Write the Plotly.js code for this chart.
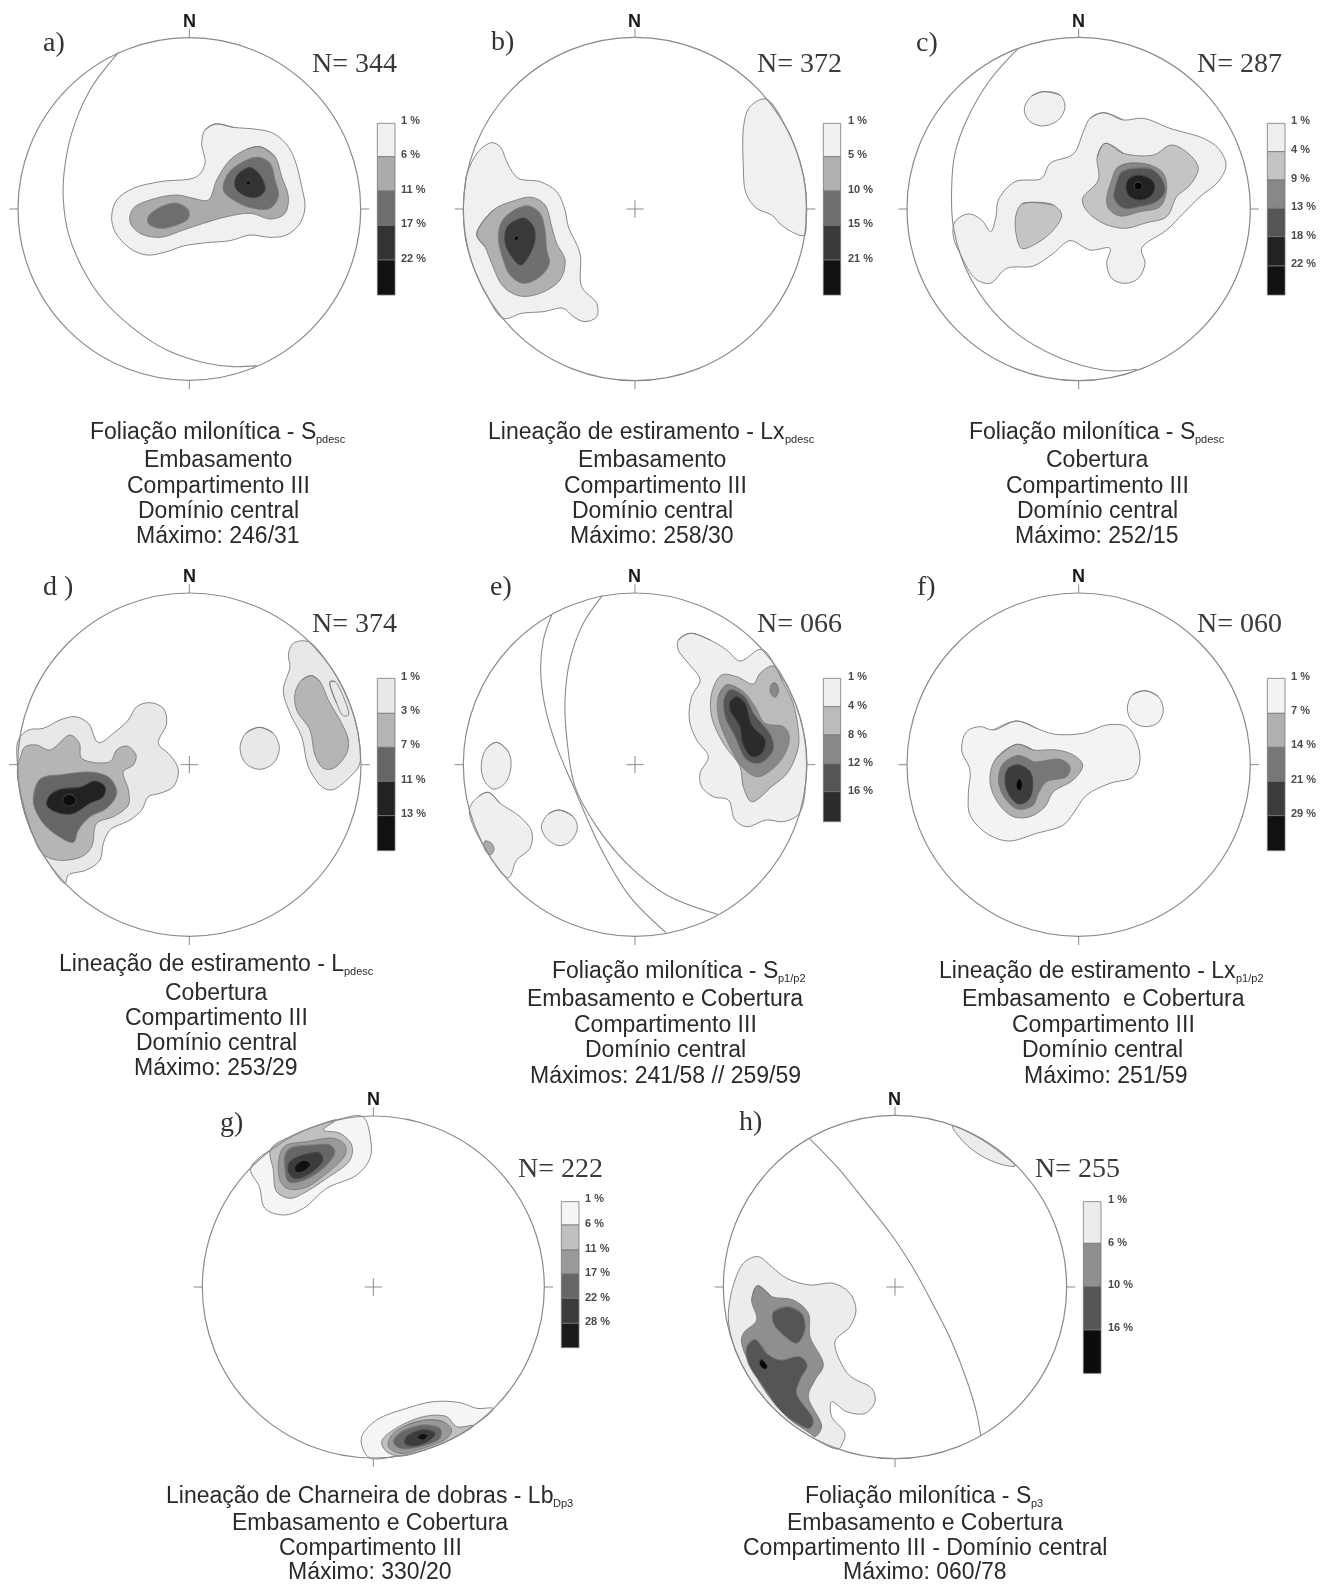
<!DOCTYPE html>
<html><head><meta charset="utf-8">
<script src="https://cdn.plot.ly/plotly-3.0.1.min.js"></script>
<style>html,body{margin:0;padding:0;background:#fff}#chart{width:1331px;height:1584px;filter:blur(0.45px)}</style>
</head><body><div id="chart"></div>
<script>
// Contours, in chart units of each net (1 unit = 1/3 page pixel)
const aL1=[[645,372],[700,382],[770,388],[820,400],[865,440],[888,490],[905,560],[915,620],[900,670],[860,705],[810,712],[750,705],[690,722],[620,728],[550,738],[500,755],[440,765],[390,745],[345,695],[335,650],[350,600],[400,565],[480,545],[590,530],[615,490],[605,430],[615,390]];
const aL2=[[780,440],[825,470],[845,530],[865,590],[855,640],[815,657],[750,640],[680,650],[610,670],[550,690],[480,712],[420,700],[390,665],[400,625],[450,600],[530,585],[580,595],[625,600],[650,540],[690,480],[740,448]];
const aL3a=[[775,472],[810,490],[825,540],[835,590],[810,625],[760,625],[700,600],[670,570],[685,520],[730,485]];
const aL3b=[[530,610],[565,630],[565,655],[530,675],[480,685],[445,670],[445,650],[480,622]];
const aL4=[[750,503],[780,525],[795,570],[770,592],[730,585],[705,560],[712,525]];
const aL5=[[745,542],[750,544],[752,548],[750,552],[745,555],[740,552],[738,548],[740,544]];
const aArc=[[355,158],[270,270],[215,400],[192,520],[190,600],[205,700],[245,800],[310,900],[400,985],[500,1050],[620,1090],[700,1100],[770,1097]];

const bL1a=[[51,520],[85,455],[125,428],[150,440],[175,495],[205,535],[270,545],[320,575],[345,630],[355,680],[390,760],[395,860],[440,910],[440,950],[405,965],[370,950],[340,925],[280,935],[215,940],[160,955],[110,885],[70,800],[47,720],[40,627],[44,570]];
const bL1b=[[948,297],[900,320],[882,370],[880,500],[888,580],[920,625],[965,645],[1000,680],[1062,706],[1068,650],[1066,560],[1045,470],[1010,385]];
const bL2=[[80,703],[130,630],[190,603],[245,592],[285,615],[305,680],[320,730],[345,780],[330,840],[270,880],[210,888],[160,860],[125,790],[105,740]];
const bL3=[[235,618],[270,640],[285,690],[290,750],[298,790],[270,830],[220,850],[180,825],[160,780],[145,715],[155,665],[190,632]];
const bL4=[[225,655],[250,680],[255,720],[235,770],[212,795],[185,770],[165,725],[172,680],[200,660]];
const bL5=[[205,707],[207,714],[196,722],[192,712]];

const cL1a=[[460,275],[510,285],[525,320],[505,360],[455,378],[415,360],[403,325],[425,288]];
const cL1b=[[640,338],[700,360],[760,355],[840,385],[940,415],[985,445],[1008,495],[985,545],[930,590],[880,640],[830,690],[755,745],[765,790],[745,835],[705,850],[665,835],[650,790],[660,745],[600,750],[540,722],[490,760],[430,798],[350,805],[300,850],[255,835],[215,770],[190,710],[195,665],[235,642],[275,660],[302,695],[318,650],[325,600],[375,545],[455,535],[480,490],[550,462],[580,395],[600,355]];
const cL2a=[[420,607],[490,615],[515,645],[490,690],[440,730],[395,745],[378,700],[378,645],[395,612]];
const cL2b=[[645,430],[700,460],[790,465],[845,435],[900,465],[925,505],[900,555],[860,590],[830,650],[770,668],[700,685],[630,665],[585,625],[578,595],[625,540],[622,470]];
const cL3=[[715,490],[780,495],[820,520],[830,570],[810,620],[750,635],[690,648],[655,625],[650,595],[665,540],[680,505]];
const cL4=[[725,505],[780,505],[815,535],[825,575],[800,605],[750,620],[700,625],[672,595],[680,545],[695,515]];
const cL5=[[745,525],[780,535],[795,560],[780,590],[745,600],[715,585],[708,555],[720,533]];
const cL6=[[745,546],[754,549],[757,558],[754,567],[745,570],[736,567],[733,558],[736,549]];
const cArc=[[385,145],[300,240],[230,360],[195,460],[185,560],[190,680],[225,800],[290,910],[380,1000],[490,1065],[610,1105],[680,1113],[740,1108]];

const dL1a=[[55,540],[85,510],[130,505],[180,480],[225,470],[265,490],[295,548],[340,520],[385,480],[410,440],[450,428],[490,445],[500,490],[475,550],[510,585],[535,630],[520,680],[480,700],[445,710],[425,750],[390,780],[330,810],[310,850],[300,900],[260,930],[205,945],[195,970],[140,900],[90,805],[62,710],[52,614]];
const dL1b=[[925,245],[880,250],[865,285],[870,320],[850,390],[870,460],[905,530],[925,620],[965,680],[995,690],[1040,660],[1078,615],[1080,570],[1068,490],[1036,400],[984,310]];
const dL1c=[[778,502],[820,520],[838,565],[820,610],[778,628],[737,610],[720,565],[737,520]];
const dL2a=[[62,590],[75,560],[110,555],[150,570],[210,525],[238,550],[245,595],[330,605],[350,570],[380,558],[408,585],[400,615],[370,635],[385,690],[385,735],[340,770],[290,790],[275,860],[245,890],[170,900],[127,880],[90,800],[62,700],[52,630]];
const dL2b=[[935,347],[960,365],[985,420],[1025,490],[1045,540],[1040,580],[1000,625],[970,625],[945,585],[930,510],[890,450],[885,400],[905,360]];
const dL2c=[[990,365],[1005,365],[1030,410],[1045,465],[1030,467],[1010,430]];
const dL3=[[120,658],[180,645],[280,637],[330,655],[350,700],[320,745],[270,770],[235,810],[220,847],[170,825],[130,790],[100,725]];
const dL4=[[180,688],[240,682],[285,663],[315,680],[310,710],[270,730],[215,762],[165,755],[140,735],[150,705]];
const dL5=[[208,703],[222,708],[228,722],[222,733],[208,738],[194,733],[188,722],[194,708]];

const eL1a=[[720,220],[780,240],[830,270],[870,303],[935,268],[990,345],[1040,440],[1068,560],[1068,660],[1048,760],[1000,785],[950,780],[890,800],[855,780],[835,720],[790,710],[755,680],[750,640],[775,590],[740,540],[718,480],[725,410],[750,360],[715,310],[685,270],[685,240]];
const eL1b=[[140,547],[175,575],[183,620],[165,670],[130,687],[102,660],[94,610],[110,565]];
const eL1c=[[327,750],[370,770],[382,805],[360,845],[327,857],[290,835],[274,800],[295,762]];
const eL1d=[[115,697],[150,730],[210,770],[245,815],[240,865],[200,900],[175,953],[111,875],[58,750],[85,710]];
const eL2a=[[970,318],[1000,370],[1028,425],[1045,510],[1045,560],[1015,635],[965,680],[905,725],[880,680],[870,620],[820,550],[785,470],[785,400],[815,345],[860,350],[910,372],[930,340]];
const eL2b=[[105,843],[125,850],[132,870],[120,885],[102,862]];
const eL3a=[[830,375],[880,395],[915,440],[945,490],[1000,500],[1018,530],[1000,590],[950,640],[920,650],[880,625],[830,540],[805,470],[805,410]];
const eL3b=[[972,368],[982,375],[986,390],[982,405],[975,412],[965,405],[960,392],[963,376]];
const eL4=[[840,388],[880,405],[915,465],[965,530],[970,570],[930,610],[890,600],[855,530],[825,470],[822,415]];
const eL5=[[860,410],[885,430],[905,495],[945,540],[935,580],[905,590],[878,550],[870,500],[840,450],[840,425]];
const eArc1=[[305,165],[280,240],[272,330],[285,440],[320,560],[375,690],[450,860],[540,1010],[648,1118]];
const eArc2=[[457,107],[400,190],[360,300],[345,420],[350,530],[375,680],[440,800],[530,910],[650,1005],[803,1063]];

const fL1a=[[380,483],[440,505],[490,522],[580,520],[650,495],[710,500],[738,540],[750,600],[730,650],[660,670],[590,705],[550,760],[520,795],[440,820],[355,843],[290,820],[240,765],[235,700],[240,630],[215,570],[230,515],[270,500],[310,510]];
const fL1b=[[765,392],[805,410],[820,450],[805,487],[765,500],[725,482],[712,445],[727,405]];
const fL2=[[380,553],[430,570],[500,570],[550,585],[578,615],[550,660],[490,695],[465,740],[420,770],[370,770],[325,730],[300,665],[315,600]];
const fL3=[[385,587],[430,605],[510,598],[540,620],[530,650],[470,665],[445,700],[430,735],[385,748],[345,715],[325,660],[340,610]];
const fL4=[[385,615],[420,635],[428,680],[415,720],[385,732],[355,700],[345,655],[355,625]];
const fL5=[[388,655],[395,663],[397,675],[395,686],[388,692],[381,686],[378,675],[381,663]];

const gL1a=[[548,110],[572,180],[570,235],[530,285],[440,325],[370,385],[310,405],[255,385],[238,320],[212,265],[300,191],[400,141],[470,120]];
const gL2a=[[468,120],[430,150],[480,160],[515,195],[510,240],[440,295],[370,340],[330,355],[290,335],[280,270],[272,208],[340,165],[400,141]];
const gL3a=[[320,195],[380,185],[460,175],[495,195],[495,225],[440,280],[370,325],[320,325],[300,300],[295,250],[305,210]];
const gL4a=[[330,205],[400,195],[450,195],[465,215],[430,265],[360,305],[325,305],[315,270],[315,225]];
const gL5a=[[370,225],[420,220],[428,240],[390,280],[345,295],[325,275],[330,245]];
const gL6a=[[370,240],[392,250],[375,272],[348,277],[345,258]];
const gL1b=[[940,986],[890,985],[840,968],[760,965],[680,985],[590,1020],[545,1070],[550,1110],[570,1134],[650,1129],[740,1108],[840,1063]];
const gL2b=[[880,1037],[830,1040],[800,1010],[730,1010],[640,1050],[605,1085],[620,1115],[660,1128],[740,1108],[820,1075]];
const gL3b=[[740,1020],[790,1025],[815,1050],[800,1075],[720,1108],[660,1120],[625,1100],[635,1065],[680,1035]];
const gL4b=[[730,1035],[780,1045],[780,1075],[720,1100],[660,1105],[640,1085],[665,1055]];
const gL5b=[[730,1050],[765,1060],[750,1080],[700,1098],[675,1090],[680,1070]];
const gL6b=[[725,1060],[745,1065],[730,1080],[712,1072]];

const hL1a=[[757,138],[830,170],[890,210],[945,258],[900,252],[840,225],[790,185]];
const hL1b=[[85,715],[105,600],[135,545],[175,530],[215,560],[260,595],[330,615],[400,610],[450,640],[468,690],[450,740],[405,785],[435,870],[460,895],[515,925],[525,965],[495,1000],[440,995],[395,965],[395,1010],[435,1060],[425,1095],[415,1107],[329,1068],[236,1000],[159,910],[110,820]];
const hL2=[[172,617],[215,650],[280,660],[325,700],[330,770],[370,855],[345,900],[325,950],[365,1040],[345,1070],[330,1060],[260,1010],[190,925],[125,790],[130,760],[170,720],[155,660]];
const hL3a=[[265,680],[305,700],[315,750],[290,790],[250,765],[220,730],[220,695]];
const hL3b=[[165,778],[200,820],[240,840],[300,830],[322,855],[300,900],[290,940],[340,1020],[330,1045],[290,1030],[240,990],[190,920],[145,850],[140,800]];
const hL4=[[183,838],[193,845],[202,860],[195,868],[185,862],[178,850]];
const hArc=[[328,175],[415,265],[500,370],[575,465],[640,565],[700,675],[755,785],[800,900],[830,1000],[842,1067]];

// Legend class labels
const aLabels=['1 %','6 %','11 %','17 %','22 %'];
const bLabels=['1 %','5 %','10 %','15 %','21 %'];
const cLabels=['1 %','4 %','9 %','13 %','18 %','22 %'];
const dLabels=['1 %','3 %','7 %','11 %','13 %'];
const eLabels=['1 %','4 %','8 %','12 %','16 %'];
const fLabels=['1 %','7 %','14 %','21 %','29 %'];
const gLabels=['1 %','6 %','11 %','17 %','22 %','28 %'];
const hLabels=['1 %','6 %','10 %','16 %'];

const nets=[
 {tag:'a)',count:'N= 344',ox:0,oy:0,w:450,h:400,cx:568,cy:627,R:514,cross:false,tagX:128,tagY:125,nX:935,nY:187,northY:62,
  polys:[[aL1,'#f0f0f0'],[aL2,'#ababab'],[aL3a,'#6e6e6e'],[aL3b,'#6e6e6e'],[aL4,'#333333'],[aL5,'#0d0d0d']],arcs:[aArc],
  bx:[1132,1185],by:[370,470,573,676,780,885],bc:['#f0f0f0','#ababab','#6e6e6e','#333333','#111111'],lx:1204,ly:[360,463,566,668,773],labels:aLabels},
 {tag:'b)',count:'N= 372',ox:450,oy:0,w:450,h:400,cx:555,cy:627,R:515,cross:true,tagX:123,tagY:122,nX:920,nY:187,northY:62,
  polys:[[bL1a,'#f0f0f0'],[bL1b,'#f0f0f0'],[bL2,'#b0b0b0'],[bL3,'#6f6f6f'],[bL4,'#3a3a3a'],[bL5,'#0d0d0d']],arcs:[],
  bx:[1120,1172],by:[370,470,573,676,780,885],bc:['#f0f0f0','#b0b0b0','#6f6f6f','#3a3a3a','#111111'],lx:1193,ly:[360,463,566,668,773],labels:bLabels},
 {tag:'c)',count:'N= 287',ox:890,oy:0,w:441,h:400,cx:566,cy:627,R:515,cross:false,tagX:78,tagY:125,nX:920,nY:187,northY:62,
  polys:[[cL1a,'#f0f0f0'],[cL1b,'#f0f0f0'],[cL2a,'#c4c4c4'],[cL2b,'#c4c4c4'],[cL3,'#888888'],[cL4,'#555555'],[cL5,'#222222'],[cL6,'#050505']],arcs:[cArc],
  bx:[1132,1185],by:[370,455,540,625,710,798,885],bc:['#efefef','#c4c4c4','#888888','#555555','#222222','#111111'],lx:1204,ly:[360,448,533,618,705,790],labels:cLabels},
 {tag:'d )',count:'N= 374',ox:0,oy:560,w:450,h:400,cx:568,cy:614,R:515,cross:true,tagX:128,tagY:75,nX:935,nY:187,northY:48,
  polys:[[dL1a,'#e8e8e8'],[dL1b,'#e8e8e8'],[dL1c,'#e8e8e8'],[dL2a,'#b5b5b5'],[dL2b,'#b5b5b5'],[dL2c,'#e8e8e8'],[dL3,'#666666'],[dL4,'#222222'],[dL5,'#0d0d0d']],arcs:[],
  bx:[1132,1185],by:[355,460,562,664,767,872],bc:['#e8e8e8','#b5b5b5','#666666','#222222','#111111'],lx:1204,ly:[348,450,553,656,760],labels:dLabels},
 {tag:'e)',count:'N= 066',ox:450,oy:560,w:450,h:400,cx:555,cy:614,R:515,cross:true,tagX:120,tagY:75,nX:920,nY:187,northY:48,
  polys:[[eL1a,'#efefef'],[eL1b,'#efefef'],[eL1c,'#efefef'],[eL1d,'#efefef'],[eL2a,'#bbbbbb'],[eL2b,'#aaaaaa'],[eL3a,'#888888'],[eL3b,'#888888'],[eL4,'#555555'],[eL5,'#2b2b2b']],arcs:[eArc1,eArc2],
  bx:[1120,1172],by:[355,440,525,612,695,785],bc:['#efefef','#bbbbbb','#888888','#555555','#2b2b2b'],lx:1193,ly:[348,435,521,605,690],labels:eLabels},
 {tag:'f)',count:'N= 060',ox:890,oy:560,w:441,h:400,cx:566,cy:614,R:515,cross:false,tagX:80,tagY:75,nX:920,nY:187,northY:48,
  polys:[[fL1a,'#f3f3f3'],[fL1b,'#f3f3f3'],[fL2,'#b0b0b0'],[fL3,'#777777'],[fL4,'#3c3c3c'],[fL5,'#050505']],arcs:[],
  bx:[1132,1185],by:[355,460,562,664,767,872],bc:['#f3f3f3','#b0b0b0','#777777','#3c3c3c','#111111'],lx:1204,ly:[348,450,553,656,760],labels:fLabels},
 {tag:'g)',count:'N= 222',ox:180,oy:1080,w:450,h:400,cx:580,cy:621,R:513,cross:true,tagX:120,tagY:125,nX:1013,nY:262,northY:58,
  polys:[[gL1a,'#f5f5f5'],[gL2a,'#c0c0c0'],[gL3a,'#999999'],[gL4a,'#666666'],[gL5a,'#3c3c3c'],[gL6a,'#111111'],[gL1b,'#f5f5f5'],[gL2b,'#c0c0c0'],[gL3b,'#999999'],[gL4b,'#666666'],[gL5b,'#3c3c3c'],[gL6b,'#111111']],arcs:[],
  bx:[1144,1197],by:[365,435,510,582,655,730,803],bc:['#f5f5f5','#c0c0c0','#999999','#666666','#3c3c3c','#1a1a1a'],lx:1215,ly:[355,428,503,576,650,723],labels:gLabels},
 {tag:'h)',count:'N= 255',ox:700,oy:1080,w:450,h:400,cx:585,cy:621,R:515,cross:true,tagX:118,tagY:122,nX:1005,nY:262,northY:58,
  polys:[[hL1a,'#ececec'],[hL1b,'#ececec'],[hL2,'#8f8f8f'],[hL3a,'#555555'],[hL3b,'#555555'],[hL4,'#050505']],arcs:[hArc],
  bx:[1150,1203],by:[365,490,620,750,880],bc:['#ececec','#8f8f8f','#555555','#0c0c0c'],lx:1225,ly:[356,485,613,741],labels:hLabels}
];

// Headline of each caption: [right end of main text, y, main text, subscript]
const headlines=[
 [317,431,'Foliação milonítica - S','pdesc'],
 [786,431,'Lineação de estiramento - Lx','pdesc'],
 [1196,431,'Foliação milonítica - S','pdesc'],
 [345,963,'Lineação de estiramento - L','pdesc'],
 [779,970,'Foliação milonítica - S','p1/p2'],
 [1237,970,'Lineação de estiramento - Lx','p1/p2'],
 [554,1495,'Lineação de Charneira de dobras - Lb','Dp3'],
 [1032,1495,'Foliação milonítica - S','p3']
];
// Other caption lines: [centre x, centre y, text]
const captions=[
 [218,459,'Embasamento'],[218,485,'Compartimento III'],[218,510,'Domínio central'],[218,535,'Máximo: 246/31'],
 [652,459,'Embasamento'],[655,485,'Compartimento III'],[652,510,'Domínio central'],[652,535,'Máximo: 258/30'],
 [1097,459,'Cobertura'],[1097,485,'Compartimento III'],[1097,510,'Domínio central'],[1097,535,'Máximo: 252/15'],
 [216,992,'Cobertura'],[216,1017,'Compartimento III'],[216,1042,'Domínio central'],[216,1067,'Máximo: 253/29'],
 [665,998,'Embasamento e Cobertura'],[665,1024,'Compartimento III'],[665,1049,'Domínio central'],[665,1075,'Máximos: 241/58 // 259/59'],
 [1103,998,'Embasamento  e Cobertura'],[1103,1024,'Compartimento III'],[1102,1049,'Domínio central'],[1106,1075,'Máximo: 251/59'],
 [370,1522,'Embasamento e Cobertura'],[370,1547,'Compartimento III'],[370,1571,'Máximo: 330/20'],
 [925,1522,'Embasamento e Cobertura'],[925,1547,'Compartimento III - Domínio central'],[925,1571,'Máximo: 060/78']
];

const W=1331,H=1584,traces=[],shapes=[],annotations=[];
const layout={width:W,height:H,margin:{l:0,r:0,t:0,b:0,pad:0},showlegend:false,hovermode:false,paper_bgcolor:'#fff',plot_bgcolor:'rgba(0,0,0,0)',shapes,annotations};
const EDGE='#8a8a8a',CONT='#7a7a7a';
const isDark=c=>parseInt(c.slice(1,3),16)<0x40;
nets.forEach((n,i)=>{
  const s=i?String(i+1):'',xr='x'+s,yr='y'+s;
  layout['xaxis'+s]={domain:[n.ox/W,(n.ox+n.w)/W],range:[0,n.w*3],visible:false,fixedrange:true,anchor:yr};
  layout['yaxis'+s]={domain:[1-(n.oy+n.h)/H,1-n.oy/H],range:[n.h*3,0],visible:false,fixedrange:true,anchor:xr};
  n.polys.forEach(([pts,col])=>{
    // closed blobs wrap round so the spline has no kink; blobs cut by the net keep their corner at the rim
    const onRim=Math.hypot(pts[0][0]-n.cx,pts[0][1]-n.cy)>0.96*n.R;
    const p=onRim?pts.concat([pts[0]]):[pts[pts.length-1]].concat(pts,[pts[0],pts[1]]);
    traces.push({type:'scatter',mode:'lines',xaxis:xr,yaxis:yr,x:p.map(q=>q[0]),y:p.map(q=>q[1]),fill:'toself',fillcolor:col,line:{color:isDark(col)?'#444444':CONT,width:0.9,shape:'spline',smoothing:1},hoverinfo:'skip'});
  });
  n.arcs.forEach(pts=>{
    traces.push({type:'scatter',mode:'lines',xaxis:xr,yaxis:yr,x:pts.map(q=>q[0]),y:pts.map(q=>q[1]),line:{color:EDGE,width:1.1,shape:'spline',smoothing:1},hoverinfo:'skip'});
  });
  const seg=(x0,y0,x1,y1)=>shapes.push({type:'line',xref:xr,yref:yr,x0,y0,x1,y1,line:{color:EDGE,width:1}});
  shapes.push({type:'circle',xref:xr,yref:yr,x0:n.cx-n.R,x1:n.cx+n.R,y0:n.cy-n.R,y1:n.cy+n.R,line:{color:EDGE,width:1.2},layer:'above'});
  const t=26;
  seg(n.cx,n.cy-n.R-t,n.cx,n.cy-n.R); seg(n.cx,n.cy+n.R,n.cx,n.cy+n.R+t);
  seg(n.cx-n.R-t,n.cy,n.cx-n.R,n.cy); seg(n.cx+n.R,n.cy,n.cx+n.R+t,n.cy);
  if(n.cross){seg(n.cx-26,n.cy,n.cx+26,n.cy);seg(n.cx,n.cy-26,n.cx,n.cy+26);}
  n.bc.forEach((c,k)=>shapes.push({type:'rect',xref:xr,yref:yr,x0:n.bx[0],x1:n.bx[1],y0:n.by[k],y1:n.by[k+1],fillcolor:c,line:{color:'#777',width:0.8}}));
  const ann=(x,y,text,font,xanchor)=>annotations.push({xref:xr,yref:yr,x,y,text,font,showarrow:false,xanchor:xanchor||'left',yanchor:'middle',borderpad:0,borderwidth:0});
  n.labels.forEach((l,k)=>ann(n.lx,n.ly[k],l,{family:'Liberation Sans',size:11,color:'#4a4a4a',weight:700}));
  ann(n.cx-1,n.northY,'N',{family:'Liberation Sans',size:18,color:'#1a1a1a',weight:700},'center');
  ann(n.tagX,n.tagY,n.tag,{family:'Liberation Serif',size:28,color:'#333'});
  ann(n.nX,n.nY,n.count,{family:'Liberation Serif',size:28,color:'#3a3a3a'});
});
const cap=(x,y,text,size,xanchor)=>annotations.push({xref:'paper',yref:'paper',x:x/W,y:1-y/H,text,showarrow:false,xanchor,yanchor:'middle',font:{family:'Liberation Sans',size,color:'#2a2a2a'},borderpad:0});
captions.forEach(([x,y,text])=>cap(x,y,text,23,'center'));
headlines.forEach(([x,y,text,low])=>{cap(x,y,text,23,'right');cap(x-2.5,y+8,low,11,'left');});
Plotly.newPlot('chart',traces,layout,{staticPlot:true,displayModeBar:false});
</script></body></html>
